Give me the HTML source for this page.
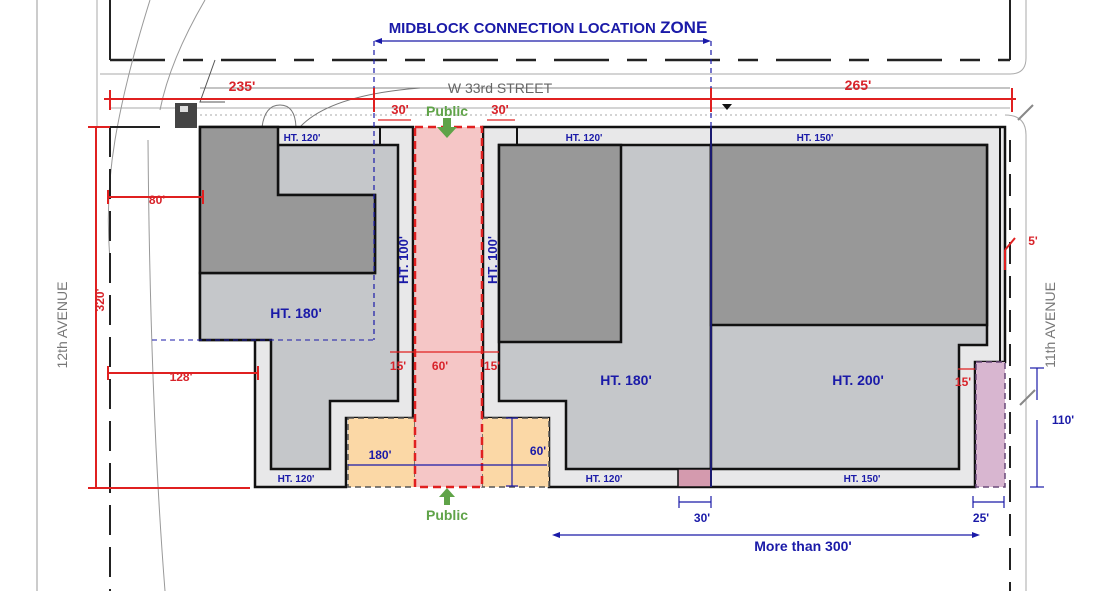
<!DOCTYPE html>
<html><head><meta charset="utf-8"><style>
html,body{margin:0;padding:0;background:#fff;}
svg{display:block;font-family:"Liberation Sans",Arial,sans-serif;}
.b{fill:#1a1aa8;font-weight:bold;}
.r{fill:#d8232a;font-weight:bold;}
</style></head><body>
<svg width="1093" height="591" viewBox="0 0 1093 591" xmlns="http://www.w3.org/2000/svg">
<rect width="1093" height="591" fill="#fff"/>
<!-- street/context lines -->
<line x1="37" y1="0" x2="37" y2="591" stroke="#999" stroke-width="1"/>
<line x1="97" y1="0" x2="97" y2="127" stroke="#aaa" stroke-width="1"/>
<path d="M110 0 V60" stroke="#222" stroke-width="2"/>
<path d="M1010 0 V60" stroke="#222" stroke-width="2"/>
<line x1="110" y1="60" x2="1010" y2="60" stroke="#222" stroke-width="2.5" stroke-dasharray="55 18 20 18"/>
<path d="M100 74 H1010 Q1026 74 1026 58 V0" stroke="#aaa" fill="none"/>
<line x1="200" y1="88" x2="1010" y2="88" stroke="#888"/>
<line x1="110" y1="108" x2="1010" y2="108" stroke="#aaa"/>
<line x1="200" y1="115" x2="1000" y2="115" stroke="#aaa" stroke-dasharray="2 3"/>
<path d="M1005 115 Q1026 115 1026 135 V591" stroke="#aaa" fill="none"/>
<path d="M150 0 Q125 80 115 140 Q105 200 110 260" stroke="#999" fill="none"/>
<path d="M205 0 Q170 60 160 110" stroke="#999" fill="none"/>
<path d="M148 140 Q150 400 165 591" stroke="#999" fill="none"/>
<path d="M215 60 L200 102 H225" stroke="#555" fill="none"/>
<path d="M300 127 Q330 95 420 88" stroke="#777" fill="none"/>
<path d="M262 127 Q265 105 280 105 Q295 105 296 127" stroke="#777" fill="none"/>
<rect x="175" y="103" width="22" height="25" fill="#444"/>
<rect x="180" y="106" width="8" height="6" fill="#ddd"/>
<!-- left dashed black parcel lines -->
<line x1="110" y1="127" x2="110" y2="591" stroke="#222" stroke-width="2" stroke-dasharray="30 12"/>
<line x1="1010" y1="140" x2="1010" y2="591" stroke="#222" stroke-width="2" stroke-dasharray="22 12"/>
<line x1="110" y1="127" x2="160" y2="127" stroke="#222" stroke-width="2"/>
<!-- parcels light band -->
<path d="M200 127 H413 V418 H346 V487 H255 V340 H200 Z" fill="#e8e8e9" stroke="#111" stroke-width="2.5"/>
<path d="M483 127 H1005 V362 H975 V487 H711 V487 H549 V418 H483 Z" fill="#e8e8e9" stroke="#111" stroke-width="2.5"/>
<!-- left building -->
<path d="M200 273 V340 H271 V469 H330 V401 H398 V145 H278 V195 H375 V273 Z" fill="#c5c7ca" stroke="#111" stroke-width="2.5"/>
<path d="M200 127 H278 V195 H375 V273 H200 Z" fill="#989898" stroke="#111" stroke-width="2.5"/>
<line x1="380" y1="127" x2="380" y2="145" stroke="#111" stroke-width="2"/>
<!-- middle building -->
<path d="M499 145 H711 V469 H566 V401 H499 Z" fill="#c5c7ca" stroke="#111" stroke-width="2.5"/>
<path d="M499 145 H621 V342 H499 Z" fill="#989898" stroke="#111" stroke-width="2.5"/>
<line x1="517" y1="127" x2="517" y2="145" stroke="#111" stroke-width="2"/>
<!-- right building -->
<path d="M711 145 H987 V345 H959 V469 H711 Z" fill="#c5c7ca" stroke="#111" stroke-width="2.5"/>
<path d="M711 145 H987 V325 H711 Z" fill="#989898" stroke="#111" stroke-width="2.5"/>
<line x1="1000" y1="127" x2="1000" y2="362" stroke="#111" stroke-width="2"/>
<!-- pink pieces -->
<rect x="678" y="469" width="33" height="18" fill="#d49aae" stroke="#111" stroke-width="1.5"/>
<rect x="976" y="362" width="29" height="125" fill="#d8b6d0" stroke="#6a4a7a" stroke-width="1.5" stroke-dasharray="6 4"/>
<!-- orange plazas -->
<rect x="348" y="418" width="67" height="69" fill="#fbd8a6" stroke="#555" stroke-width="1.5" stroke-dasharray="6 4"/>
<rect x="482" y="418" width="67" height="69" fill="#fbd8a6" stroke="#555" stroke-width="1.5" stroke-dasharray="6 4"/>
<!-- walkway -->
<rect x="415" y="127" width="67" height="360" fill="#f5c6c6" stroke="#e02020" stroke-width="2.5" stroke-dasharray="8 5"/>
<!-- midblock zone -->
<text x="548" y="33" text-anchor="middle" class="b" font-size="15">MIDBLOCK CONNECTION LOCATION <tspan font-size="17">ZONE</tspan></text>
<line x1="378" y1="41" x2="707" y2="41" stroke="#1a1aa8" stroke-width="1.2"/>
<path d="M374 41 l8 -3 v6 z M711 41 l-8 -3 v6 z" fill="#1a1aa8"/>
<line x1="374" y1="41" x2="374" y2="340" stroke="#1a1aa8" stroke-width="1.2" stroke-dasharray="5 4"/>
<line x1="711" y1="41" x2="711" y2="127" stroke="#1a1aa8" stroke-width="1.2" stroke-dasharray="5 4"/>
<line x1="711" y1="127" x2="711" y2="487" stroke="#1a1a70" stroke-width="2"/>
<line x1="152" y1="340" x2="374" y2="340" stroke="#1a1aa8" stroke-width="1" stroke-dasharray="5 4"/>
<text x="500" y="93" text-anchor="middle" fill="#666" font-size="14">W 33rd STREET</text>
<path d="M722 104 l10 0 l-5 6 z" fill="#111"/>
<!-- red dims -->
<line x1="104" y1="99" x2="1016" y2="99" stroke="#e02020" stroke-width="2"/>
<g stroke="#e02020" stroke-width="2">
<line x1="110" y1="90" x2="110" y2="110"/><line x1="374" y1="88" x2="374" y2="112"/><line x1="711" y1="88" x2="711" y2="112"/><line x1="1012" y1="88" x2="1012" y2="112"/>
<line x1="96" y1="127" x2="96" y2="488"/><line x1="88" y1="127" x2="110" y2="127"/><line x1="88" y1="488" x2="250" y2="488"/>
<line x1="108" y1="197" x2="203" y2="197"/><line x1="108" y1="190" x2="108" y2="204"/><line x1="203" y1="190" x2="203" y2="204"/>
<line x1="108" y1="373" x2="258" y2="373"/><line x1="108" y1="366" x2="108" y2="380"/><line x1="258" y1="366" x2="258" y2="380"/>
<line x1="1005" y1="250" x2="1005" y2="270"/><line x1="1005" y1="250" x2="1015" y2="238"/>
</g>
<g stroke="#e02020" stroke-width="1.2">
<line x1="378" y1="120" x2="411" y2="120"/><line x1="487" y1="120" x2="515" y2="120"/>
<line x1="390" y1="352" x2="499" y2="352"/>
<line x1="958" y1="369" x2="975" y2="369"/>
</g>
<text x="242" y="91" text-anchor="middle" class="r" font-size="14">235'</text>
<text x="858" y="90" text-anchor="middle" class="r" font-size="14">265'</text>
<text x="400" y="114" text-anchor="middle" class="r" font-size="13">30'</text>
<text x="500" y="114" text-anchor="middle" class="r" font-size="13">30'</text>
<text x="157" y="204" text-anchor="middle" class="r" font-size="12">80'</text>
<text x="181" y="381" text-anchor="middle" class="r" font-size="12">128'</text>
<text transform="translate(104,300) rotate(-90)" text-anchor="middle" class="r" font-size="12">320'</text>
<text x="398" y="370" text-anchor="middle" class="r" font-size="12">15'</text>
<text x="440" y="370" text-anchor="middle" class="r" font-size="12">60'</text>
<text x="492" y="370" text-anchor="middle" class="r" font-size="12">15'</text>
<text x="963" y="386" text-anchor="middle" class="r" font-size="12">15'</text>
<text x="1033" y="245" text-anchor="middle" class="r" font-size="12">5'</text>
<!-- public -->
<text x="447" y="116" text-anchor="middle" fill="#5fa348" font-weight="bold" font-size="14">Public</text>
<path d="M443 118 h8 v9 h6 l-10 11 l-10 -11 h6 z" fill="#5fa348"/>
<path d="M447 488 l-8 9 h5 v8 h6 v-8 h5 z" fill="#5fa348"/>
<text x="447" y="520" text-anchor="middle" fill="#5fa348" font-weight="bold" font-size="14">Public</text>
<!-- HT labels -->
<g class="b" font-size="10" text-anchor="middle">
<text x="302" y="141">HT. 120'</text><text x="584" y="141">HT. 120'</text><text x="815" y="141">HT. 150'</text>
<text x="296" y="482">HT. 120'</text><text x="604" y="482">HT. 120'</text><text x="862" y="482">HT. 150'</text>
</g>
<g class="b" font-size="14" text-anchor="middle">
<text x="296" y="318">HT. 180'</text><text x="626" y="385">HT. 180'</text><text x="858" y="385">HT. 200'</text>
<text transform="translate(408,260) rotate(-90)" font-size="13">HT. 100'</text>
<text transform="translate(497,260) rotate(-90)" font-size="13">HT. 100'</text>
</g>
<!-- blue dims -->
<g stroke="#1a1aa8" stroke-width="1.2">
<line x1="348" y1="465" x2="547" y2="465"/>
<line x1="512" y1="418" x2="512" y2="486"/><line x1="506" y1="418" x2="518" y2="418"/><line x1="506" y1="486" x2="518" y2="486"/>
<line x1="679" y1="502" x2="711" y2="502"/><line x1="679" y1="496" x2="679" y2="508"/><line x1="711" y1="496" x2="711" y2="508"/>
<line x1="973" y1="502" x2="1004" y2="502"/><line x1="973" y1="496" x2="973" y2="508"/><line x1="1004" y1="496" x2="1004" y2="508"/>
<line x1="1037" y1="368" x2="1037" y2="400"/><line x1="1037" y1="420" x2="1037" y2="487"/><line x1="1030" y1="368" x2="1044" y2="368"/><line x1="1030" y1="487" x2="1044" y2="487"/>
<line x1="556" y1="535" x2="976" y2="535"/>
</g>
<path d="M552 535 l8 -3 v6 z M980 535 l-8 -3 v6 z" fill="#1a1aa8"/>
<text x="380" y="459" text-anchor="middle" class="b" font-size="12">180'</text>
<text x="538" y="455" text-anchor="middle" class="b" font-size="12">60'</text>
<text x="702" y="522" text-anchor="middle" class="b" font-size="12">30'</text>
<text x="981" y="522" text-anchor="middle" class="b" font-size="12">25'</text>
<text x="1063" y="424" text-anchor="middle" class="b" font-size="12">110'</text>
<text x="803" y="551" text-anchor="middle" class="b" font-size="14">More than 300'</text>
<!-- avenue labels -->
<text transform="translate(67,325) rotate(-90)" text-anchor="middle" fill="#777" font-size="14">12th AVENUE</text>
<text transform="translate(1055,325) rotate(-90)" text-anchor="middle" fill="#777" font-size="14">11th AVENUE</text>
<line x1="1020" y1="405" x2="1035" y2="390" stroke="#888" stroke-width="2"/>
<line x1="1018" y1="120" x2="1033" y2="105" stroke="#888" stroke-width="2"/>
</svg>
</body></html>
